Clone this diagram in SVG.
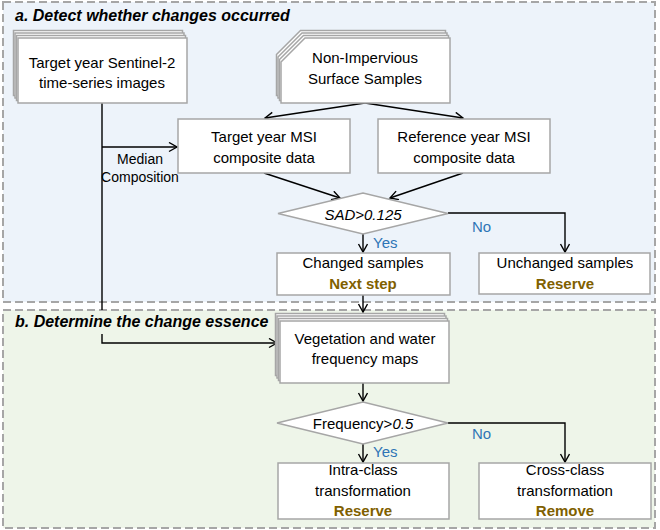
<svg xmlns="http://www.w3.org/2000/svg" width="660" height="530" viewBox="0 0 660 530">
<style>
text{font-family:"Liberation Sans",Arial,sans-serif;font-size:15px;fill:#000;text-anchor:middle}
.title{font-size:16px;font-weight:bold;font-style:italic;text-anchor:start}
.panel{stroke:#A6A6A6;stroke-width:2;stroke-dasharray:8,4}
.box{fill:#fff;stroke:#A6A6A6;stroke-width:1.5}
.gold{fill:#7F6000;font-weight:bold}
.blue{fill:#2E75B6;text-anchor:start}
.it{font-style:italic}
.small{font-size:14px}
.conn path{fill:none;stroke:#000;stroke-width:1.4;marker-end:url(#arr)}
</style>
<defs>
<marker id="arr" markerUnits="userSpaceOnUse" markerWidth="12" markerHeight="12" refX="9" refY="5" orient="auto">
<path d="M1,0.5 L9,5 L1,9.5" fill="none" stroke="#000" stroke-width="1.4"/>
</marker>
</defs>
<g id="panel-a">
<rect class="panel" x="3" y="2" width="652" height="300" fill="#EDF3FA"/>
<text class="title" x="15" y="21">a. Detect whether changes occurred</text>
</g>
<g id="panel-b">
<rect class="panel" x="3" y="310" width="652" height="218" fill="#EEF5E9"/>
</g>
<g class="conn" id="connectors">
<path d="M365,103 L265,118"/>
<path d="M365,103 L463,118"/>
<path d="M102,103 V310 M102,334 V343 H277"/>
<path d="M102,147 H177"/>
<path d="M264,173 L340,198"/>
<path d="M463,173 L390,198"/>
<path d="M363,234 V252"/>
<path d="M448,213 H565 V252"/>
<path d="M363,295 V312"/>
<path d="M363,383 V401"/>
<path d="M363,444 V462"/>
<path d="M448,423 H565 V462"/>
</g>
<text class="title" x="15" y="327">b. Determine the change essence</text>
<g id="sentinel-images">
<rect class="box" x="13.5" y="30.5" width="169" height="65"/>
<rect class="box" x="15" y="33" width="169" height="65"/>
<rect class="box" x="16.5" y="35.5" width="169" height="65"/>
<rect class="box" x="18" y="38" width="169" height="65"/>
<text x="102" y="68">Target year Sentinel-2</text>
<text x="102" y="88">time-series images</text>
</g>
<g id="non-impervious-samples">
<polygon class="box" points="276.5,54.5 300.5,30.5 445.5,30.5 445.5,95.5 276.5,95.5"/>
<polygon class="box" points="278,57 302,33 447,33 447,98 278,98"/>
<polygon class="box" points="279.5,59.5 303.5,35.5 448.5,35.5 448.5,100.5 279.5,100.5"/>
<polygon class="box" points="281,62 305,38 450,38 450,103 281,103"/>
<text x="365" y="63">Non-Impervious</text>
<text x="365" y="84">Surface Samples</text>
</g>
<g id="target-msi">
<rect class="box" x="178" y="119" width="172" height="54"/>
<text x="264" y="142">Target year MSI</text>
<text x="264" y="163">composite data</text>
</g>
<g id="reference-msi">
<rect class="box" x="378" y="119" width="172" height="54"/>
<text x="464" y="142">Reference year MSI</text>
<text x="464" y="163">composite data</text>
</g>
<g id="median-label">
<text class="small" x="140" y="164">Median</text>
<text class="small" x="140" y="182">Composition</text>
</g>
<g id="sad-decision">
<polygon class="box" points="278,213.5 363,193 448,213.5 363,234"/>
<text class="it" x="363" y="220">SAD&gt;0.125</text>
<text class="blue" x="373" y="248">Yes</text>
<text class="blue" x="472" y="232">No</text>
</g>
<g id="changed-samples">
<rect class="box" x="277" y="253" width="173" height="42"/>
<text x="363" y="268">Changed samples</text>
<text class="gold" x="363" y="289">Next step</text>
</g>
<g id="unchanged-samples">
<rect class="box" x="479" y="253" width="171" height="41"/>
<text x="565" y="268">Unchanged samples</text>
<text class="gold" x="565" y="289">Reserve</text>
</g>
<g id="frequency-maps">
<rect class="box" x="275.5" y="313.5" width="169" height="62"/>
<rect class="box" x="277" y="316" width="169" height="62"/>
<rect class="box" x="278.5" y="318.5" width="169" height="62"/>
<rect class="box" x="280" y="321" width="169" height="62"/>
<text x="365" y="344">Vegetation and water</text>
<text x="365" y="364">frequency maps</text>
</g>
<g id="frequency-decision">
<polygon class="box" points="277,423 363,402 448,423 363,444"/>
<text x="363" y="429">Frequency&gt;<tspan class="it">0.5</tspan></text>
<text class="blue" x="373" y="457">Yes</text>
<text class="blue" x="472" y="439">No</text>
</g>
<g id="intra-class">
<rect class="box" x="278" y="463" width="171" height="56"/>
<text x="363" y="475">Intra-class</text>
<text x="363" y="496">transformation</text>
<text class="gold" x="363" y="516">Reserve</text>
</g>
<g id="cross-class">
<rect class="box" x="479" y="463" width="172" height="56"/>
<text x="565" y="475">Cross-class</text>
<text x="565" y="496">transformation</text>
<text class="gold" x="565" y="516">Remove</text>
</g>
</svg>
